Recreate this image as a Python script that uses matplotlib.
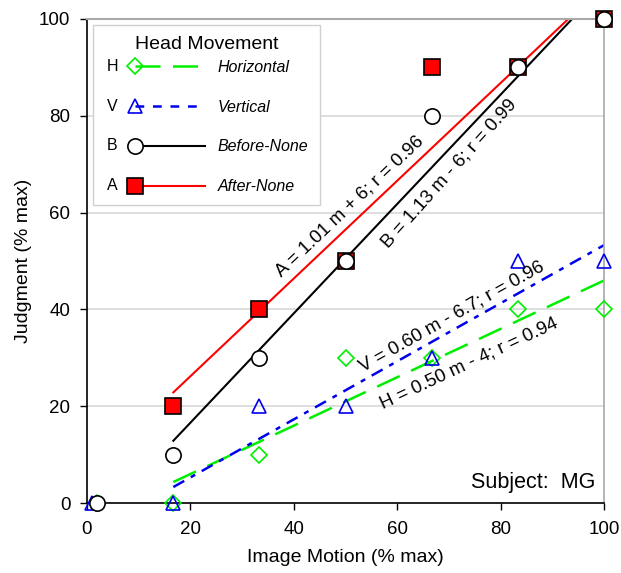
import numpy as np
import matplotlib
matplotlib.use("Agg")
import matplotlib.pyplot as plt
from matplotlib.lines import Line2D
from matplotlib.text import Text
from matplotlib.legend_handler import HandlerBase

plt.rcParams['font.family'] = ['Liberation Sans', 'DejaVu Sans']

# Data (image motion vs judgment, % max)
h_x = [2, 16.7, 33.3, 50, 66.7, 83.3, 100]
h_y = [0, 0, 10, 30, 30, 40, 40]
v_x = [1, 16.7, 33.3, 50, 66.7, 83.3, 100]
v_y = [0, 0, 20, 20, 30, 50, 50]
b_x = [2, 16.7, 33.3, 50, 66.7, 83.3, 100]
b_y = [0, 10, 30, 50, 80, 90, 100]
a_x = [16.7, 33.3, 50, 66.7, 83.3, 100]
a_y = [20, 40, 50, 90, 90, 100]

# regression fits (slope, intercept, r)
h_fit = (0.50, -4, 0.94)
v_fit = (0.60, -6.7, 0.96)
b_fit = (1.13, -6, 0.99)
a_fit = (1.01, 6, 0.96)

tags = ["H", "V", "B", "A"]
names = ["Horizontal", "Vertical", "Before-None", "After-None"]

green = "#00ee00"
blue = "#0000ee"
red = "#ff0000"

fig = plt.figure(figsize=(6.21, 5.73), dpi=100)
ax = fig.add_axes([0.140, 0.122, 0.833, 0.845])
ax.set_xlim(0, 100)
ax.set_ylim(0, 100)


def fit_line(fit, x0, x1):
    m, c, r = fit
    xs = np.array([x0, x1], dtype=float)
    if m * x1 + c > 100:
        xs[1] = (100 - c) / m
    return xs, m * xs + c


def slope_angle(m):
    p0 = ax.transData.transform((0, 0))
    p1 = ax.transData.transform((10, 10 * m))
    return np.degrees(np.arctan2(p1[1] - p0[1], p1[0] - p0[0]))


# grid lines
for gy in [20, 40, 60, 80]:
    ax.axhline(gy, color="#d8d8d8", lw=1.2, zorder=0)

# styles per series
styles = {
    "H": dict(line=dict(color=green, lw=1.8, dashes=(10, 5)),
              mark=dict(marker="D", ms=8.5, mfc="none", mec=green, mew=1.2)),
    "V": dict(line=dict(color=blue, lw=1.8, dashes=(5, 3, 2, 3)),
              mark=dict(marker="^", ms=10, mfc="none", mec=blue, mew=1.2)),
    "B": dict(line=dict(color="black", lw=1.5),
              mark=dict(marker="o", ms=11, mfc="white", mec="black", mew=1.2)),
    "A": dict(line=dict(color=red, lw=1.5),
              mark=dict(marker="s", ms=11.5, mfc=red, mec="black", mew=1.2)),
}

# regression lines
for fit, key in [(h_fit, "H"), (v_fit, "V"), (b_fit, "B"), (a_fit, "A")]:
    xs, ys = fit_line(fit, 16.7, 100)
    ax.plot(xs, ys, zorder=2, **styles[key]["line"])

# data points
ax.plot(h_x, h_y, ls="none", clip_on=False, zorder=3, **styles["H"]["mark"])
ax.plot(v_x, v_y, ls="none", clip_on=False, zorder=3, **styles["V"]["mark"])
ax.plot(a_x, a_y, ls="none", clip_on=False, zorder=4, **styles["A"]["mark"])
ax.plot(b_x, b_y, ls="none", clip_on=False, zorder=5, **styles["B"]["mark"])

# equation labels along the lines
eq_fs = 13.5
ax.text(37.6, 46.6, "A = 1.01 m + 6; r = 0.96", rotation=slope_angle(a_fit[0]),
        ha="left", va="baseline", fontsize=eq_fs, rotation_mode="anchor")
ax.text(58.2, 52.6, "B = 1.13 m - 6; r = 0.99", rotation=slope_angle(b_fit[0]) + 1.5,
        ha="left", va="baseline", fontsize=eq_fs, rotation_mode="anchor")
ax.text(53.3, 27.1, "V = 0.60 m - 6.7; r = 0.96", rotation=slope_angle(v_fit[0]),
        ha="left", va="baseline", fontsize=eq_fs, rotation_mode="anchor")
ax.text(57.2, 19.4, "H = 0.50 m - 4; r = 0.94", rotation=slope_angle(h_fit[0]),
        ha="left", va="baseline", fontsize=eq_fs, rotation_mode="anchor")

ax.text(98.3, 3.2, "Subject:  MG", ha="right", va="baseline", fontsize=15.5)


# legend entry: letter tag, marker at the left, then the line
class TaggedHandler(HandlerBase):
    def __init__(self, tag, style, dashes=None):
        super().__init__()
        self.tag = tag
        self.style = style
        self.dashes = dashes

    def create_artists(self, legend, orig_handle, xdescent, ydescent,
                       width, height, fontsize, trans):
        y = height / 2 - ydescent
        x0 = -xdescent
        xm = x0 + 0.30 * width
        letter = Text(x0 + 2, y, self.tag, ha="left", va="center",
                      fontsize=fontsize, fontstyle="normal")
        line = Line2D([xm, x0 + width], [y, y], **self.style["line"])
        if self.dashes is not None:
            line.set_dashes(self.dashes)
        mark = Line2D([xm], [y], ls="none", **self.style["mark"])
        for a in (letter, line, mark):
            a.set_transform(trans)
        return [line, mark, letter]


legend_dashes = {"V": (0, (3.5, 3.5))}

handles = []
hmap = {}
for tag in tags:
    h = Line2D([0], [0], **styles[tag]["line"])
    handles.append(h)
    d = legend_dashes.get(tag)
    hmap[h] = TaggedHandler(tag, styles[tag], d[1] if d else None)

leg = ax.legend(handles, names, handler_map=hmap, loc="upper left",
                bbox_to_anchor=(0.012, 0.988), borderaxespad=0,
                title="Head Movement", title_fontsize=14,
                prop={"style": "italic", "size": 11.5}, handlelength=6.3,
                handletextpad=0.8, labelspacing=1.55, borderpad=0.7,
                frameon=True, fancybox=False, edgecolor="#d0d0d0",
                framealpha=1)
leg._legend_box.sep = 5  # tighter gap under the title
leg.get_frame().set_linewidth(1.0)

ax.set_xticks([0, 20, 40, 60, 80, 100])
ax.set_yticks([0, 20, 40, 60, 80, 100])
ax.tick_params(labelsize=13.5, direction="out", length=5, width=1)
ax.tick_params(axis="x", pad=8)
ax.tick_params(axis="y", pad=7)
ax.set_xlabel("Image Motion (% max)", fontsize=14, labelpad=8)
ax.set_ylabel("Judgment (% max)", fontsize=14, labelpad=5)

ax.spines["top"].set_color("#a8a8a8")
ax.spines["right"].set_color("#a8a8a8")
ax.spines["top"].set_linewidth(1.5)
ax.spines["right"].set_linewidth(1.2)
ax.spines["left"].set_linewidth(1.2)
ax.spines["bottom"].set_linewidth(1.2)

fig.savefig("out.png", dpi=100)
